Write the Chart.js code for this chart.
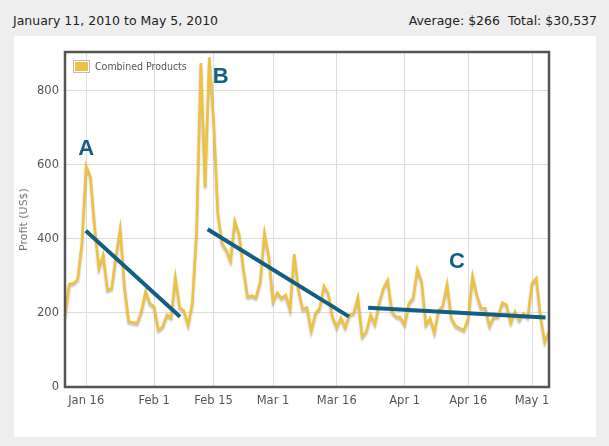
<!DOCTYPE html>
<html>
<head>
<meta charset="utf-8">
<script src="https://cdn.jsdelivr.net/npm/chart.js@4.4.0/dist/chart.umd.min.js"></script>
<style>
  html, body { margin: 0; padding: 0; }
  body { width: 609px; height: 446px; background: #eeeeee; position: relative; overflow: hidden;
         font-family: "DejaVu Sans", sans-serif; }
  .hdr { position: absolute; top: 13px; font-size: 12.5px; line-height: 16px; color: #222; white-space: pre; }
  .hdr.left { left: 13px; }
  .hdr.right { right: 12px; }
  .panel { position: absolute; left: 14px; top: 36px; width: 582px; height: 401px; background: #fff; }
</style>
</head>
<body>
<div class="hdr left">January 11, 2010 to May 5, 2010</div>
<div class="hdr right">Average: $266  Total: $30,537</div>
<div class="panel"><canvas id="profitChart" width="582" height="401"></canvas></div>
<script>
'use strict'

// daily profit, Jan 11 .. May 5 2010 (115 days)
const profit = [
  190, 278, 280, 291, 388, 597, 568, 430, 321, 357,
  262, 266, 352, 427, 271, 177, 174, 172, 204, 259,
  226, 217, 154, 163, 195, 187, 296, 215, 206, 168,
  226, 420, 875, 541, 891, 720, 469, 388, 370, 341,
  449, 413, 321, 244, 247, 242, 285, 415, 352, 231,
  255, 240, 249, 210, 359, 262, 210, 215, 152, 199,
  213, 273, 253, 190, 161, 188, 161, 195, 199, 242,
  136, 150, 195, 170, 226, 267, 289, 204, 190, 188,
  168, 226, 240, 318, 285, 168, 186, 147, 208, 219,
  278, 186, 165, 159, 154, 186, 300, 249, 213, 213,
  165, 190, 190, 228, 222, 174, 204, 181, 199, 188,
  280, 294, 190, 122, 150
];

const tickLabels = ['Jan 16', 'Feb 1', 'Feb 15', 'Mar 1', 'Mar 16', 'Apr 1', 'Apr 16', 'May 1'];
const yTicks = [0, 200, 400, 600, 800];

// trend lines drawn over the chart: [day index, profit]
const trendA = [[4.9, 422], [27.1, 190]];
const trendB = [[33.6, 426], [66.9, 190]];
const trendC = [[71.4, 214], [113.2, 188]];
// letter labels: [text, day index, profit]
const marks = [['A', 5, 647], ['B', 36.7, 840], ['C', 92.3, 340]];

// day labels
const months = ['Jan', 'Feb', 'Mar', 'Apr', 'May'];
const days = profit.map((v, i) => {
  const d = new Date(2010, 0, 11 + i);
  return months[d.getMonth()] + ' ' + d.getDate();
});
const tickIdx = tickLabels.map(t => days.indexOf(t));

const yellow = '#eec23f';
const blue = '#135f84';
const tickFont = { family: 'DejaVu Sans', size: 11.5 };

const toPts = arr => arr.map(p => ({ x: p[0], y: p[1] }));
const trendSet = arr => ({
  label: 'trend', data: toPts(arr), borderColor: blue, borderWidth: 4,
  pointRadius: 0, borderCapStyle: 'butt', order: 0, tension: 0
});

const shadowPlugin = {
  id: 'shadow',
  beforeDatasetDraw(chart, args) {
    if (args.meta.label !== 'Combined Products') return;
    const ctx = chart.ctx;
    ctx.save();
    ctx.shadowColor = 'rgba(0,0,0,0.28)';
    ctx.shadowBlur = 2;
    ctx.shadowOffsetY = 2;
  },
  afterDatasetDraw(chart, args) {
    if (args.meta.label !== 'Combined Products') return;
    chart.ctx.restore();
  }
};

const decorPlugin = {
  id: 'decor',
  afterDraw(chart) {
    const ctx = chart.ctx;
    const a = chart.chartArea;
    const xs = chart.scales.x, ys = chart.scales.y;
    ctx.save();
    // frame
    ctx.strokeStyle = '#555';
    ctx.lineWidth = 2.5;
    ctx.strokeRect(a.left, a.top, a.right - a.left, a.bottom - a.top);
    // legend
    ctx.fillStyle = '#fff';
    ctx.fillRect(a.left + 8, a.top + 8, 17, 13);
    ctx.strokeStyle = '#bbb';
    ctx.lineWidth = 1;
    ctx.strokeRect(a.left + 8.5, a.top + 8.5, 16, 12);
    ctx.fillStyle = yellow;
    ctx.fillRect(a.left + 10, a.top + 10, 13, 9);
    ctx.fillStyle = '#555';
    ctx.font = '10.5px "DejaVu Sans Condensed", "DejaVu Sans"';
    ctx.textBaseline = 'middle';
    ctx.fillText('Combined Products', a.left + 30, a.top + 15);
    // letters
    ctx.fillStyle = blue;
    ctx.font = 'bold 22px "Liberation Sans", Arial';
    ctx.textAlign = 'center';
    marks.forEach(m => {
      ctx.fillText(m[0], xs.getPixelForValue(m[1]), ys.getPixelForValue(m[2]) + 1);
    });
    ctx.restore();
  }
};

new Chart(document.getElementById('profitChart'), {
  type: 'line',
  data: {
    datasets: [
      {
        label: 'Combined Products',
        data: profit.map((v, i) => ({ x: i, y: v })),
        borderColor: yellow,
        borderWidth: 2.5,
        pointRadius: 0,
        tension: 0,
        order: 1
      },
      trendSet(trendA),
      trendSet(trendB),
      trendSet(trendC)
    ]
  },
  options: {
    responsive: false,
    animation: false,
    events: [],
    layout: { padding: { top: 16, right: 47, left: 0, bottom: 0 } },
    plugins: { legend: { display: false }, tooltip: { enabled: false } },
    scales: {
      x: {
        type: 'linear',
        min: 0,
        max: profit.length - 1,
        afterBuildTicks: s => { s.ticks = tickIdx.map(v => ({ value: v })); },
        afterFit: s => { s.height = 50; },
        ticks: {
          callback: v => days[v],
          font: tickFont, color: '#555', padding: 7, maxRotation: 0, autoSkip: false
        },
        grid: { color: '#dddddd', drawTicks: false },
        border: { display: false }
      },
      y: {
        min: 0,
        max: 905,
        afterBuildTicks: s => { s.ticks = yTicks.map(v => ({ value: v })); },
        afterFit: s => { s.width = 51; },
        ticks: { font: tickFont, color: '#555', padding: 6 },
        grid: { color: '#dddddd', drawTicks: false },
        border: { display: false },
        title: { display: true, text: 'Profit (US$)', color: '#777', font: { family: 'DejaVu Sans', size: 11 } }
      }
    }
  },
  plugins: [shadowPlugin, decorPlugin]
});
</script>
</body>
</html>
